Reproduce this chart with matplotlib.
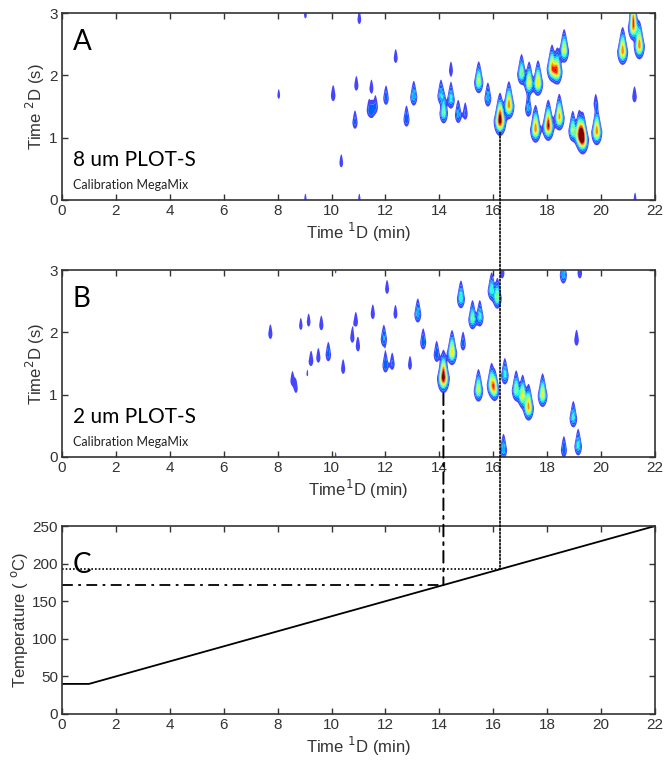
import numpy as np
import matplotlib
matplotlib.use("Agg")
import matplotlib.pyplot as plt
from matplotlib.patches import ConnectionPatch

plt.rcParams['font.family'] = ['Liberation Sans Narrow', 'Liberation Sans', 'DejaVu Sans']
plt.rcParams['mathtext.fontset'] = 'custom'
plt.rcParams['mathtext.rm'] = 'Liberation Sans Narrow'
plt.rcParams['mathtext.it'] = 'Liberation Sans Narrow'

# ---------------- data ----------------
# Panel A: 8 um PLOT-S peaks (1D time min, 2D time s, relative intensity)
A_rt1 = [8.04, 9.03, 9.03, 11.03, 11.03, 10.06, 10.92, 10.87, 10.36, 11.39, 11.50, 11.63,
         11.48, 12.02, 12.38, 12.78, 13.05, 14.06, 14.16, 14.43, 14.43, 14.70, 14.96, 15.46,
         15.80, 16.25, 16.58, 17.05, 17.33, 17.30, 17.66, 17.57, 18.04, 18.18, 18.37, 18.45,
         18.63, 18.95, 19.19, 19.32, 19.84, 19.80, 20.80, 21.20, 21.42, 21.18, 21.24, 21.26]
A_rt2 = [1.68, 2.97, 0.02, 2.90, 0.02, 1.68, 1.84, 1.25, 0.60, 1.45, 1.42, 1.50,
         1.80, 1.64, 2.28, 1.30, 1.66, 1.68, 1.40, 2.08, 1.62, 1.37, 1.39, 1.90,
         1.64, 1.28, 1.52, 2.03, 1.88, 1.47, 1.88, 1.14, 1.19, 2.12, 2.07, 1.33,
         2.40, 1.12, 1.07, 0.98, 1.10, 1.55, 2.39, 2.78, 2.48, 2.97, 1.66, 0.02]
A_int = [1.3, 1.3, 1.2, 1.6, 1.2, 2.0, 1.8, 2.4, 1.6, 2.0, 2.0, 2.2,
         1.6, 2.6, 1.7, 3.0, 4.0, 4.0, 5.5, 1.7, 4.5, 3.5, 2.2, 6.5,
         3.8, 11.5, 9.0, 6.0, 7.2, 3.5, 8.0, 9.0, 10.5, 8.5, 8.5, 8.5,
         7.2, 6.0, 8.5, 11.0, 9.0, 1.8, 9.0, 9.0, 9.0, 3.0, 2.0, 1.3]

# Panel B: 2 um PLOT-S peaks
B_rt1 = [7.73, 8.55, 8.68, 8.86, 9.15, 9.10, 9.24, 9.51, 9.62, 9.88, 10.15, 10.15,
         10.43, 10.77, 10.90, 10.98, 11.53, 12.06, 11.94, 12.00, 12.25, 12.37, 12.91, 13.20,
         13.40, 13.90, 14.15, 14.47, 14.80, 14.88, 15.23, 15.50, 15.45, 15.94, 16.06, 15.94,
         16.15, 16.33, 16.43, 16.38, 16.85, 17.09, 17.31, 17.83, 18.60, 18.62, 19.21, 19.09,
         18.97, 19.15]
B_rt2 = [1.98, 1.23, 1.10, 2.11, 2.17, 1.33, 1.55, 1.60, 2.12, 1.65, 2.98, 0.02,
         1.42, 1.92, 2.18, 1.78, 2.30, 2.70, 1.90, 1.48, 1.50, 2.30, 1.48, 2.30,
         1.85, 1.65, 1.28, 1.68, 2.55, 1.82, 2.22, 2.25, 1.08, 1.17, 1.08, 2.68,
         2.56, 2.96, 1.32, 0.12, 1.08, 0.98, 0.80, 1.00, 2.93, 0.12, 2.96, 1.88,
         0.63, 0.18]
B_int = [1.8, 1.8, 1.5, 1.5, 1.6, 1.1, 1.9, 1.8, 1.8, 2.6, 1.1, 1.1,
         1.8, 1.8, 1.8, 1.8, 1.8, 1.7, 3.2, 3.0, 2.2, 1.7, 1.7, 3.8,
         3.0, 3.0, 11.5, 7.8, 5.0, 2.5, 5.5, 4.5, 6.8, 7.2, 6.0, 5.0,
         6.0, 2.0, 4.5, 4.0, 6.0, 7.2, 8.5, 7.2, 4.0, 3.0, 2.0, 2.0,
         4.5, 4.5]

# Panel C: oven temperature program
temp_time = [0, 1, 22]
temp_value = [40, 40, 250]

# marked retention times (1D, min)
mark_dotted = 16.25   # peak in A
mark_dashdot = 14.15  # peak in B
mark_dotted_start = 1.08
mark_dashdot_start = 1.02

xticks = list(range(0, 23, 2))

# ---------------- figure ----------------
fig = plt.figure(figsize=(6.67, 7.66), dpi=100)
axA = fig.add_axes([0.093, 0.739, 0.889, 0.244])
axB = fig.add_axes([0.093, 0.4034, 0.889, 0.244])
axC = fig.add_axes([0.093, 0.0679, 0.889, 0.2454])

jet = plt.get_cmap('jet')
levels = [1, 2, 3, 4, 5, 6, 7, 8, 9, 10, 1000]
cols = [(0.27, 0.27, 1.0)] + [jet(v) for v in [0.22, 0.30, 0.38, 0.48, 0.58, 0.66, 0.76, 0.88, 1.0]]

gx = np.linspace(0, 22, 2201)
gy = np.linspace(0, 3, 601)
X, Y = np.meshgrid(gx, gy)


def surface(rt1, rt2, inten):
    """Sum of tailing 2D peaks (pointed top, rounded bottom)."""
    Z = np.zeros_like(X)
    for x0, y0, h in zip(rt1, rt2, inten):
        sx = 0.064 + 0.0038 * h
        sup = 0.125 + 0.0065 * h
        sdn = 0.072 + 0.0038 * h
        dy = Y - y0
        up = dy > 0
        sy = np.where(up, sup, sdn)
        sxe = np.where(up, sx / (1.0 + dy / (2.2 * sup)), sx)
        Z += h * np.exp(-0.5 * ((X - x0) / sxe) ** 2 - 0.5 * (dy / sy) ** 2)
    return Z


def style(ax, ylim, yticks):
    ax.set_xlim(0, 22)
    ax.set_ylim(*ylim)
    ax.set_xticks(xticks)
    ax.set_yticks(yticks)
    ax.tick_params(direction='in', top=True, right=True, length=4, width=1.0,
                   labelsize=11, colors='#333333', pad=3)
    for s in ax.spines.values():
        s.set_color('#333333')
        s.set_linewidth(1.2)


for ax, data, lab, title in [(axA, (A_rt1, A_rt2, A_int), 'A', '8 um PLOT-S'),
                             (axB, (B_rt1, B_rt2, B_int), 'B', '2 um PLOT-S')]:
    Z = surface(*data)
    ax.contourf(X, Y, Z, levels=levels, colors=cols, antialiased=True)
    style(ax, (0, 3), [0, 1, 2, 3])
    ax.text(0.018, 0.845, lab, transform=ax.transAxes, fontsize=20, family='Lato',
            va='center', ha='left', color='black')
    ax.text(0.018, 0.215, title, transform=ax.transAxes, fontsize=15, family='Lato',
            va='center', ha='left', color='black')
    ax.text(0.018, 0.08, 'Calibration MegaMix', transform=ax.transAxes, fontsize=9,
            family='Lato', va='center', ha='left', color='#222222')

axA.set_xlabel(r'Time $^{1}$D (min)', fontsize=12, color='#333333', labelpad=2)
axA.set_ylabel(r'Time $^{2}$D (s)', fontsize=12, color='#333333', labelpad=2)
axB.set_xlabel(r'Time$^{1}$D (min)', fontsize=12, color='#333333', labelpad=2)
axB.set_ylabel(r'Time$^{2}$D (s)', fontsize=12, color='#333333', labelpad=2)

# Panel C
axC.plot(temp_time, temp_value, color='black', lw=1.3)
T_dot = np.interp(mark_dotted, temp_time, temp_value)
T_dd = np.interp(mark_dashdot, temp_time, temp_value)
axC.plot([0, mark_dotted], [T_dot, T_dot], color='black', lw=1.2, ls=(0, (1, 1.2)))
axC.plot([0, mark_dashdot], [T_dd, T_dd], color='black', lw=1.3, ls=(0, (6, 3, 1.5, 3)))
style(axC, (0, 250), [0, 50, 100, 150, 200, 250])
axC.text(0.018, 0.79, 'C', transform=axC.transAxes, fontsize=20, family='Lato',
         va='center', ha='left', color='black')
axC.set_xlabel(r'Time $^{1}$D (min)', fontsize=12, color='#333333', labelpad=2)
axC.set_ylabel(r'Temperature ( $^{o}$C)', fontsize=12, color='#333333', labelpad=2)

# connecting lines across panels
cp1 = ConnectionPatch(xyA=(mark_dotted, mark_dotted_start), coordsA=axA.transData,
                      xyB=(mark_dotted, T_dot), coordsB=axC.transData,
                      color='black', lw=1.2, ls=(0, (1, 1.2)))
fig.add_artist(cp1)
cp2 = ConnectionPatch(xyA=(mark_dashdot, mark_dashdot_start), coordsA=axB.transData,
                      xyB=(mark_dashdot, T_dd), coordsB=axC.transData,
                      color='black', lw=1.4, ls=(0, (6, 3, 1.5, 3)))
fig.add_artist(cp2)

fig.savefig('out.png', dpi=100)
